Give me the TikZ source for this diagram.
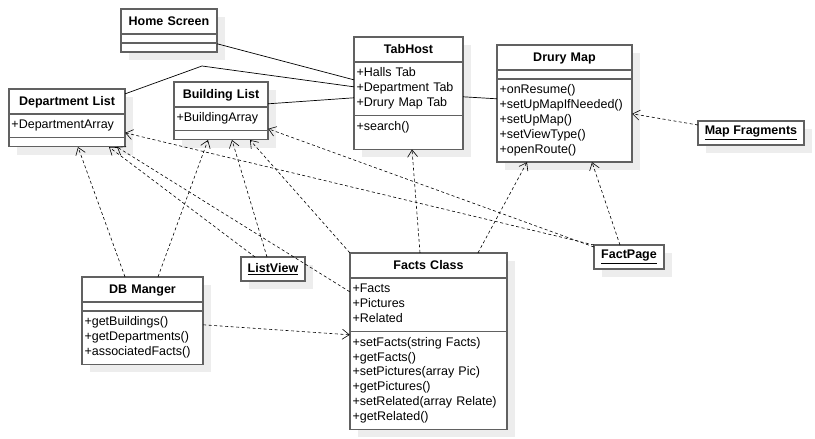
\documentclass[tikz,border=0pt]{standalone}
\usepackage{fontspec}
\setmainfont{Liberation Sans}
\usetikzlibrary{shadows,arrows.meta,positioning,fit}

\newcommand{\ttl}[1]{\rule[-4pt]{0pt}{16pt}#1}
\newcommand{\members}[1]{\begin{tabular}{@{\hspace{2.5pt}}l@{}}#1\end{tabular}}
\renewcommand{\arraystretch}{0.925}

\begin{document}
\begin{tikzpicture}[x=1pt,y=-1pt,
        font=\fontsize{12.5}{16}\selectfont,
        box/.style={draw=black!62, line width=1.3pt, fill=white, inner xsep=0pt, inner ysep=4.5pt, outer sep=0pt,
            drop shadow={fill=black!7, opacity=1, shadow xshift=8pt, shadow yshift=-8pt}},
        ctitle/.style={box, text width=#1, align=center, font=\fontsize{12.5}{16}\selectfont\bfseries, anchor=north west},
        cpart/.style={box, text width=#1, align=left},
        cempty/.style={box, minimum width=#1, minimum height=9pt, inner ysep=0pt},
        umlobj/.style={box, inner xsep=2.5pt, minimum height=24pt, anchor=north west},
        assoc/.style={line width=0.7pt},
        dep/.style={line width=0.6pt, dash pattern=on 3pt off 2.5pt, -{Straight Barb[length=7pt,width=10pt]}}]

        \useasboundingbox (0,0) rectangle (815,439);

        % classes: title (-t), attributes (-a), operations (-o); north west corner at the given point
        \node[ctitle=96pt] (home-t) at (121,9) {\ttl{Home Screen}};
        \node[cempty=96pt, below=0pt of home-t] (home-a) {};
        \node[cempty=96pt, below=0pt of home-a] (home-o) {};
        \node[fit=(home-t)(home-o), inner sep=0pt] (home) {};

        \node[ctitle=116pt] (dlist-t) at (9,89) {\ttl{Department List}};
        \node[cpart=116pt, below=0pt of dlist-t] (dlist-a) {\members{+DepartmentArray}};
        \node[cempty=116pt, below=0pt of dlist-a] (dlist-o) {};
        \node[fit=(dlist-t)(dlist-o), inner sep=0pt] (dlist) {};

        \node[ctitle=94pt] (blist-t) at (174,82) {\ttl{Building List}};
        \node[cpart=94pt, below=0pt of blist-t] (blist-a) {\members{+BuildingArray}};
        \node[cempty=94pt, below=0pt of blist-a] (blist-o) {};
        \node[fit=(blist-t)(blist-o), inner sep=0pt] (blist) {};

        \node[ctitle=109pt] (tabhost-t) at (354,37) {\ttl{TabHost}};
        \node[cpart=109pt, below=0pt of tabhost-t] (tabhost-a) {\members{+Halls Tab\\+Department Tab\\+Drury Map Tab}};
        \node[cpart=109pt, below=0pt of tabhost-a] (tabhost-o) {\members{+search()\rule[-14.5pt]{0pt}{0pt}}};
        \node[fit=(tabhost-t)(tabhost-o), inner sep=0pt] (tabhost) {};

        \node[ctitle=135pt] (drury-t) at (497,45) {\ttl{Drury Map}};
        \node[cempty=135pt, below=0pt of drury-t] (drury-a) {};
        \node[cpart=135pt, below=0pt of drury-a] (drury-o) {\members{+onResume()\\+setUpMapIfNeeded()\\+setUpMap()\\+setViewType()\\+openRoute()}};
        \node[fit=(drury-t)(drury-o), inner sep=0pt] (drury) {};

        \node[ctitle=121pt] (dbm-t) at (82,277) {\ttl{DB Manger}};
        \node[cempty=121pt, below=0pt of dbm-t] (dbm-a) {};
        \node[cpart=121pt, below=0pt of dbm-a] (dbm-o) {\members{+getBuildings()\\+getDepartments()\\+associatedFacts()}};
        \node[fit=(dbm-t)(dbm-o), inner sep=0pt] (dbm) {};

        \node[ctitle=157pt] (facts-t) at (350,253) {\ttl{Facts Class}};
        \node[cpart=157pt, below=0pt of facts-t] (facts-a) {\members{+Facts\\+Pictures\\+Related}};
        \node[cpart=157pt, below=0pt of facts-a] (facts-o) {\members{+setFacts(string Facts)\\+getFacts()\\+setPictures(array Pic)\\+getPictures()\\+setRelated(array Relate)\\+getRelated()}};
        \node[fit=(facts-t)(facts-o), inner sep=0pt] (facts) {};

        % objects
        \node[umlobj, minimum width=106pt] (mapfrag) at (698,121) {\underline{\textbf{Map Fragments}}};
        \node[umlobj, minimum width=70pt] (factpage) at (594,245) {\underline{\textbf{FactPage}}};
        \node[umlobj, minimum width=64pt] (listview) at (241,257) {\underline{\textbf{ListView}}};

        % associations
        \draw[assoc] ([yshift=-35pt]home.north east)--([yshift=-43pt]tabhost.north west);                  % home screen to tabhost
        \draw[assoc] ([yshift=-5pt]dlist.north east)--(202,66)--([yshift=-50pt]tabhost.north west);        % department list to tabhost
        \draw[assoc] ([yshift=-22pt]blist.north east)--([yshift=-61pt]tabhost.north west);                 % building list to tabhost
        \draw[assoc] ([yshift=-60pt]tabhost.north east)--([yshift=-54pt]drury.north west);                 % tabhost to drury map

        % dependencies
        \draw[dep] ([yshift=-4pt]mapfrag.north west)--([yshift=-69pt]drury.north east);                    % map fragments
        \draw[dep] ([yshift=-48pt]dbm.north east)--([yshift=-82pt]facts.north west);                       % db manger to facts
        \draw[dep] ([xshift=-17.5pt]dbm.north)--([xshift=11pt]dlist.south);
        \draw[dep] ([xshift=15.5pt]dbm.north)--([xshift=-13pt]blist.south);
        \draw[dep] ([xshift=-18pt]listview.north)--([xshift=42pt]dlist.south);                             % listview
        \draw[dep] ([xshift=-6pt]listview.north)--([xshift=11pt]blist.south);
        \draw[dep] ([yshift=-39pt]facts.north west)--([xshift=50pt]dlist.south);                           % facts class
        \draw[dep] (facts.north west)--([xshift=29pt]blist.south);
        \draw[dep] ([xshift=-8.5pt]facts.north)--([xshift=3.5pt]tabhost.south);
        \draw[dep] ([xshift=49.5pt]facts.north)--([xshift=-37.5pt]drury.south);
        \draw[dep] ([xshift=-9pt]factpage.north)--([xshift=27.5pt]drury.south);                            % factpage
        \draw[dep] (factpage.north west)--([yshift=-44pt]dlist.north east);
        \draw[dep] ([yshift=-2pt]factpage.north west)--([yshift=-47pt]blist.north east);
    \end{tikzpicture}
\end{document}
